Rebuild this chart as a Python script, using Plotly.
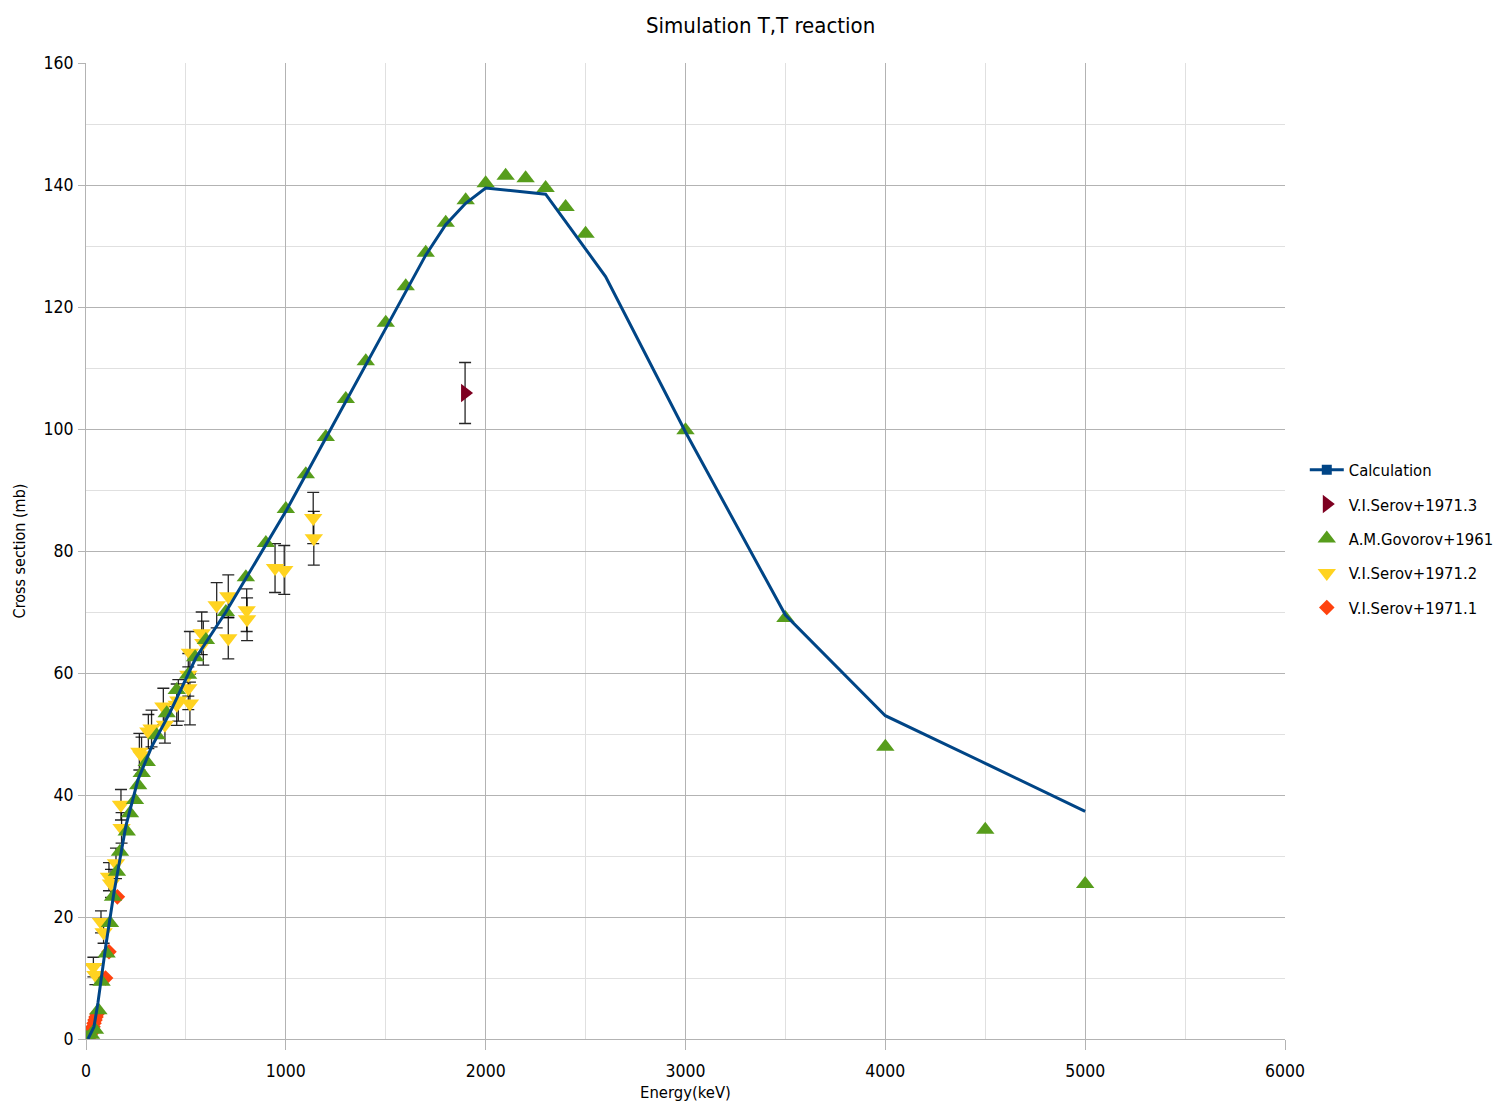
import plotly.graph_objects as go

# ---- data ----
calc_x = [10, 40, 60, 100, 140, 200, 260, 330, 420, 550, 700, 800, 900, 1000, 1100, 1200,
          1300, 1400, 1500, 1600, 1700, 1800, 1900, 2000, 2300, 2600, 3000, 3500, 4000, 4500, 5000]
calc_y = [0, 2, 6, 15.5, 24, 35, 42.5, 48, 53.5, 62.5, 70, 75.5, 81, 86.5, 92.5, 98.5,
          104.5, 110.5, 116.5, 122.5, 128.5, 133.5, 137, 139.5, 138.5, 125, 99.5, 69.5, 53, 45.2, 37.3]

serov3_x = [1897]
serov3_y = [105.9]
serov3_err = [5.0]

govorov_x = [5, 25, 45, 62, 78, 103, 120, 135, 155, 170, 204, 220, 245, 261, 279, 304, 354, 404,
             454, 511, 546, 600, 700, 800, 900, 1000, 1100, 1200, 1300, 1400, 1500, 1600, 1700,
             1800, 1900, 2000, 2100, 2200, 2300, 2400, 2500, 3000, 3500, 4000, 4500, 5000]
govorov_y = [0.2, 0.7, 1.5, 4.7, 9.4, 14, 19, 23.3, 27.4, 30.7, 34, 37, 39.2, 41.6, 43.6, 45.4,
             49.8, 53.4, 57.2, 59.7, 62.6, 65.4, 70, 75.7, 81.3, 86.9, 92.6, 98.7, 104.9, 111.1,
             117.4, 123.4, 128.9, 133.8, 137.5, 140.3, 141.5, 141.1, 139.5, 136.4, 132, 99.8,
             69, 47.9, 34.3, 25.4]

serov2_x = [37, 47, 75, 88, 115, 125, 150, 175, 178, 267, 278, 312, 328, 387, 395, 454, 462,
            512, 512, 520, 520, 579, 587, 654, 712, 712, 804, 806, 946, 992, 1137, 1140]
serov2_y = [11.8, 10.5, 19.2, 17.5, 26.6, 25.5, 28.8, 38.4, 34.6, 47.1, 46.5, 50.4, 50.9, 54.5,
            51.5, 54.8, 55.5, 59.7, 57.5, 63.3, 55.0, 66.5, 64.9, 71.1, 72.6, 65.7, 70.3, 68.8,
            77.2, 76.9, 85.4, 82.1]
serov2_err = [1.6, 1.6, 1.8, 1.8, 2.3, 2.3, 2.5, 2.5, 2.5, 3, 3, 2.8, 3, 3, 3, 3.4, 3.4, 3.5,
              3.5, 3.5, 3.5, 3.5, 3.6, 3.7, 3.5, 3.4, 3.5, 3.5, 4, 4, 4.2, 4.4]

serov1_x = [20, 25, 30, 35, 40, 45, 50, 55, 98, 115, 157]
serov1_y = [0.4, 0.9, 1.5, 2.0, 2.6, 3.1, 3.6, 4.1, 10, 14.3, 23.3]

FONT = "DejaVu Sans Condensed, Liberation Sans, sans-serif"
BLUE = "#004586"
DARKRED = "#7E0021"
GREEN = "#579D1C"
YELLOW = "#FFD320"
ORANGE = "#FF420E"
ERR = dict(type="data", visible=True, color="rgba(0,0,0,0.85)", thickness=1.3, width=6)

fig = go.Figure()

fig.add_trace(go.Scatter(x=serov2_x, y=serov2_y, mode="markers", name="V.I.Serov+1971.2",
                         marker=dict(symbol="triangle-down", size=16, color=YELLOW),
                         error_y=dict(array=serov2_err, **ERR), legendrank=4, legendgroup="d"))
fig.add_trace(go.Scatter(x=serov1_x, y=serov1_y, mode="markers", name="V.I.Serov+1971.1",
                         marker=dict(symbol="diamond", size=12, color=ORANGE),
                         legendrank=5, legendgroup="e"))
fig.add_trace(go.Scatter(x=govorov_x, y=govorov_y, mode="markers", name="A.M.Govorov+1961",
                         marker=dict(symbol="triangle-up", size=16, color=GREEN),
                         legendrank=3, legendgroup="c"))
fig.add_trace(go.Scatter(x=serov3_x, y=serov3_y, mode="markers", name="V.I.Serov+1971.3",
                         marker=dict(symbol="triangle-right", size=16, color=DARKRED),
                         error_y=dict(array=serov3_err, **ERR), legendrank=2, legendgroup="b"))
fig.add_trace(go.Scatter(x=calc_x, y=calc_y, mode="lines", name="Calculation",
                         line=dict(color=BLUE, width=3), showlegend=False, legendgroup="a"))
fig.add_trace(go.Scatter(x=[None], y=[None], mode="lines+markers", name="Calculation",
                         line=dict(color=BLUE, width=3),
                         marker=dict(symbol="square", size=10, color=BLUE),
                         legendrank=1, legendgroup="a"))

axis_common = dict(
    showline=True, linecolor="#b3b3b3", linewidth=1, mirror=False,
    showgrid=True, gridcolor="#b3b3b3", gridwidth=1,
    ticks="outside", tickcolor="#b3b3b3",
    tickfont=dict(family=FONT, size=17.5, color="#000"),
    zeroline=False, automargin=False,
)

# The page body has an 8px margin, so the figure's own origin sits at (8, 8) in the window;
# the figure is a little wider than the window so the legend never squeezes the plot area.
W, H = 1530, 1113
fig.update_layout(
    width=W, height=H,
    margin=dict(l=78, r=W - 78 - 1199, t=55, b=82),
    paper_bgcolor="white", plot_bgcolor="white",
    title=dict(text="Simulation T,T reaction", x=(646 - 8) / W, xanchor="left",
               y=1 - (25 - 8) / H, yanchor="middle",
               font=dict(family=FONT, size=22, color="#000")),
    xaxis=dict(range=[0, 6000], tickvals=[0, 1000, 2000, 3000, 4000, 5000, 6000], ticklen=10,
               ticklabelstandoff=6,
               minor=dict(dtick=500, showgrid=True, gridcolor="#e0e0e0", ticks=""),
               title=dict(text="Energy(keV)", font=dict(family=FONT, size=16.5, color="#000"), standoff=6),
               **axis_common),
    yaxis=dict(range=[0, 160], tickvals=[0, 20, 40, 60, 80, 100, 120, 140, 160], ticklen=7,
               ticklabelstandoff=1,
               minor=dict(dtick=10, showgrid=True, gridcolor="#e0e0e0", ticks=""),
               title=dict(text="Cross section (mb)", font=dict(family=FONT, size=16, color="#000"), standoff=13),
               **axis_common),
    legend=dict(x=1.0165, y=0.601, xanchor="left", yanchor="top",
                font=dict(family=FONT, size=16.5, color="#000"),
                tracegroupgap=10, itemwidth=34, bgcolor="rgba(0,0,0,0)"),
    showlegend=True,
)

fig.write_html("out.html")
